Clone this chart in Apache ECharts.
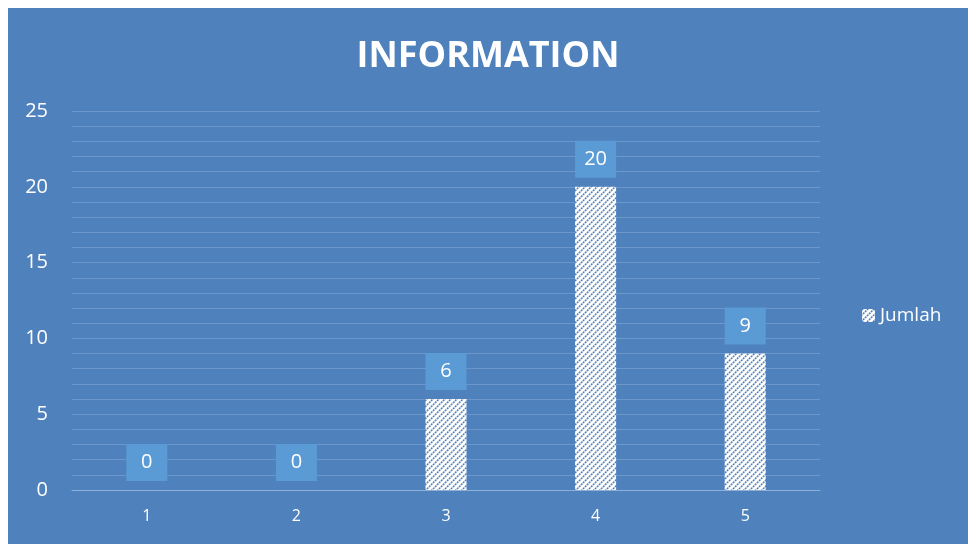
<!DOCTYPE html>
<html>
<head>
<meta charset="utf-8">
<script src="https://cdn.jsdelivr.net/npm/echarts@6/dist/echarts.min.js"></script>
<style>
html,body{margin:0;padding:0;background:#fff;}
#c{position:absolute;left:8px;top:8px;width:960px;height:536px;background:#4f81bd;}
</style>
</head>
<body>
<div id="c"></div>
<script>
const categories = ['1', '2', '3', '4', '5'];
const jumlah = [0, 0, 6, 20, 9];
const seriesName = 'Jumlah';
const titleText = 'INFORMATION';

function hatch() {
  const s = 6;
  const cv = document.createElement('canvas');
  cv.width = s; cv.height = s;
  const g = cv.getContext('2d');
  g.fillStyle = '#ffffff';
  g.fillRect(0, 0, s, s);
  g.strokeStyle = '#4f81bd';
  g.lineWidth = 1.5;
  g.setLineDash([2, 0.8]);
  g.beginPath();
  g.moveTo(-1, s + 1); g.lineTo(s + 1, -1);
  g.moveTo(-1, 1); g.lineTo(1, -1);
  g.moveTo(s - 1, s + 1); g.lineTo(s + 1, s - 1);
  g.stroke();
  return cv;
}

const chart = echarts.init(document.getElementById('c'), null, {renderer: 'canvas'});
chart.setOption({
  backgroundColor: '#4f81bd',
  animation: false,
  title: {
    text: titleText,
    left: 'center',
    top: 26,
    textStyle: {color: '#ffffff', fontFamily: 'Open Sans', fontWeight: 'bold', fontSize: 36}
  },
  legend: {
    data: [seriesName],
    left: 854,
    top: 298,
    padding: 0,
    orient: 'vertical',
    itemWidth: 13,
    itemHeight: 13,
    itemGap: 6,
    textStyle: {color: '#ffffff', fontFamily: 'Open Sans', fontSize: 19}
  },
  grid: {left: 64, right: 148, top: 103, bottom: 54, containLabel: false},
  xAxis: {
    type: 'category',
    data: categories,
    axisLine: {lineStyle: {color: '#8fb0d9', width: 1}},
    axisTick: {show: false},
    axisLabel: {color: '#ffffff', fontFamily: 'Open Sans', fontSize: 16, margin: 18}
  },
  yAxis: {
    type: 'value',
    min: 0,
    max: 25,
    interval: 5,
    axisLine: {show: false},
    axisTick: {show: false},
    axisLabel: {color: '#ffffff', fontFamily: 'Open Sans', fontSize: 20, margin: 24},
    splitLine: {lineStyle: {color: '#6b97cc', width: 1}},
    minorTick: {show: false, splitNumber: 5},
    minorSplitLine: {show: true, lineStyle: {color: '#6b97cc', width: 1}}
  },
  series: [{
    name: seriesName,
    type: 'bar',
    data: jumlah,
    barWidth: 41,
    itemStyle: {color: {image: hatch(), repeat: 'repeat'}},
    label: {
      show: true,
      position: 'top',
      distance: 9,
      color: '#ffffff',
      fontFamily: 'Open Sans',
      fontSize: 20,
      backgroundColor: '#5b9bd5',
      width: 41,
      height: 37,
      lineHeight: 37,
      align: 'center',
      padding: 0
    }
  }]
});
</script>
</body>
</html>
